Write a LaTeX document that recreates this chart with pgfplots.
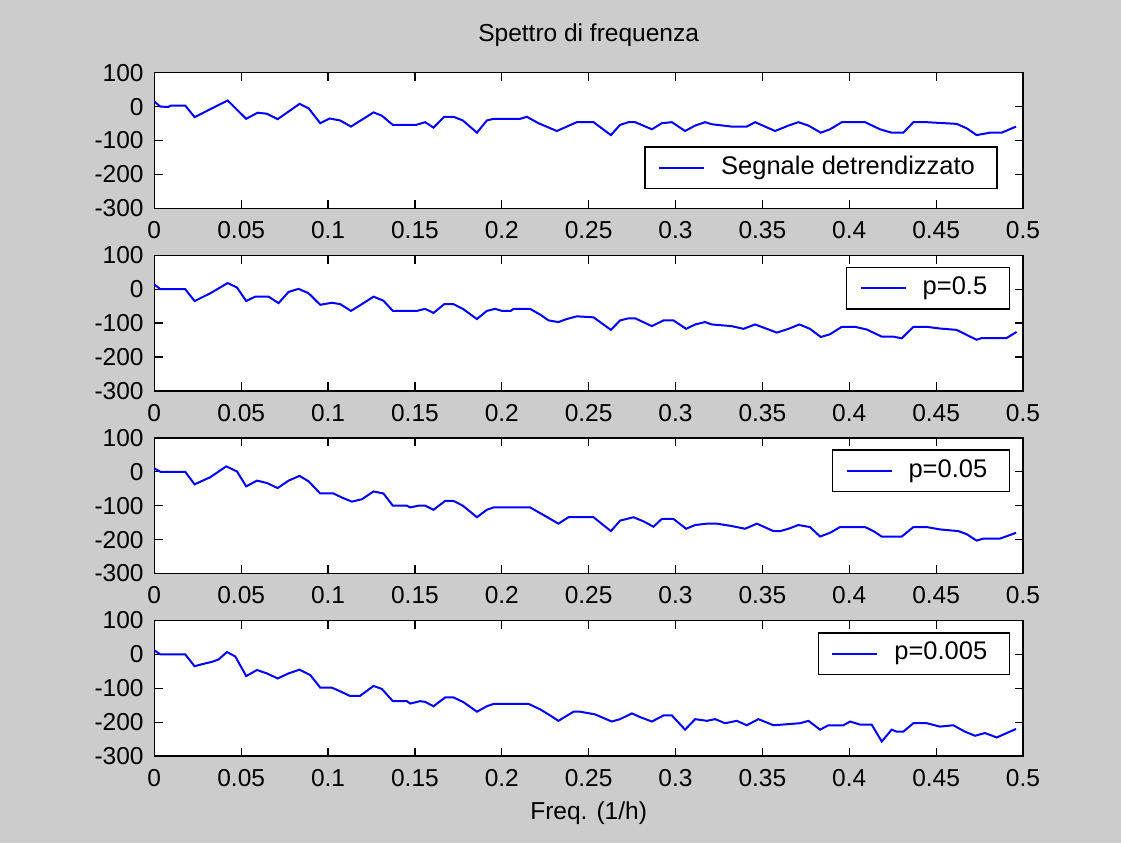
\documentclass[border=0pt]{standalone}
\usepackage{fontspec}
\setmainfont{Liberation Sans}
\usepackage{pgfplots}
\pgfplotsset{compat=1.18}
\definecolor{figbg}{RGB}{204,204,204}
\definecolor{lineblue}{RGB}{0,0,255}

\newcommand{\bigfont}{\fontsize{24.5}{28}\selectfont}
\newcommand{\legfont}{\fontsize{25.5}{29}\selectfont}

\pgfplotsset{
  spec/.style={
    scale only axis, width=868.7pt, height=135.6pt,
    xmin=0, xmax=0.5, ymin=-300, ymax=100,
    xtick={0,0.05,0.1,0.15,0.2,0.25,0.3,0.35,0.4,0.45,0.5},
    xticklabels={0,0.05,0.1,0.15,0.2,0.25,0.3,0.35,0.4,0.45,0.5},
    ytick={-300,-200,-100,0,100},
    yticklabels={-300,-200,-100,0,100},
    tick align=inside, tick pos=both,
    major tick length=8.5pt,
    tick style={black, line width=1.2pt},
    axis line style={black, line width=1.5pt},
    axis background/.style={fill=white},
    tick label style={font=\bigfont},
    xticklabel style={inner sep=0pt, anchor=north, yshift=-13pt},
    yticklabel style={inner sep=0pt, anchor=east, xshift=-10.5pt},
    label style={font=\bigfont},
    title style={font=\bigfont},
    cycle list={{lineblue, line width=2pt, mark=none}},
    legend image code/.code={\draw[#1] (0pt,0pt) -- (45pt,0pt);},
    legend style={draw=black, line width=1.5pt, fill=white, font=\legfont,
      inner xsep=13pt, inner ysep=9.5pt,
      nodes={inner sep=0pt, text height=17.5pt, text depth=5pt},
      /tikz/every odd column/.append style={column sep=16pt}},
    legend cell align=left,
  },
  legtop/.style={legend style={at={(1,1)}, anchor=north east, xshift=-13pt, yshift=-11.5pt}},
  spectrum/.style={lineblue, line width=2pt, mark=none},
}

\begin{document}
\begin{tikzpicture}
\useasboundingbox (0,0) rectangle (1121pt,843pt);
\fill[figbg] (0,0) rectangle (1121pt,843pt);

% detrended signal
\begin{axis}[spec, at={(154.3pt,634.7pt)}, anchor=south west,
  title={Spettro di frequenza},
  title style={at={(0.5,1)}, anchor=base, yshift=24.7pt, inner sep=0pt},
  legend style={at={(1,0)}, anchor=south east, xshift=-25.3pt, yshift=19pt}]
\addplot[spectrum] table {
x y
0 15
0.0035 0
0.008 -1
0.0095 3
0.0178 3
0.0232 -31
0.0422 18
0.0529 -36
0.0595 -18
0.0648 -21
0.0710 -37
0.0836 8
0.0888 -5
0.0955 -49
0.1009 -35
0.1070 -41
0.1132 -59
0.1262 -17
0.1310 -27
0.1373 -54
0.1507 -54
0.1559 -46
0.1607 -62
0.1669 -30
0.1722 -30
0.1776 -41
0.1857 -77
0.1914 -41
0.1953 -36
0.2106 -36
0.2144 -30
0.2211 -49
0.2317 -72
0.2374 -59
0.2432 -46
0.2528 -46
0.2628 -84
0.2681 -54
0.2729 -46
0.2768 -46
0.2864 -67
0.2921 -49
0.2979 -46
0.3055 -72
0.3113 -56
0.3170 -46
0.3209 -52
0.3324 -59
0.3410 -59
0.3458 -46
0.3573 -72
0.3650 -56
0.3707 -46
0.3765 -56
0.3836 -77
0.3889 -67
0.3957 -46
0.4091 -46
0.4177 -67
0.4244 -77
0.4311 -77
0.4369 -46
0.4446 -46
0.4618 -51
0.4676 -64
0.4733 -84
0.4810 -77
0.4877 -77
0.4960 -59
};
\addlegendentry{Segnale detrendizzato\kern9pt}
\end{axis}

% p = 0.5
\begin{axis}[spec, legtop, at={(154.3pt,452.1pt)}, anchor=south west]
\addplot[spectrum] table {
x y
0 14
0.0035 0
0.0178 0
0.0232 -35
0.0322 -12
0.0422 18
0.0476 5
0.0529 -35
0.0581 -22
0.0658 -22
0.0715 -41
0.0773 -8
0.0830 1
0.0888 -12
0.0955 -46
0.1022 -40
0.1070 -44
0.1132 -64
0.1195 -44
0.1262 -22
0.1319 -34
0.1373 -64
0.1511 -64
0.1559 -58
0.1607 -70
0.1669 -44
0.1722 -44
0.1776 -58
0.1857 -88
0.1914 -64
0.1962 -58
0.2001 -64
0.2052 -64
0.2067 -58
0.2163 -58
0.2221 -75
0.2269 -92
0.2326 -97
0.2374 -88
0.2432 -80
0.2528 -83
0.2628 -120
0.2681 -92
0.2729 -86
0.2768 -86
0.2864 -109
0.2931 -92
0.2988 -92
0.3061 -117
0.3113 -104
0.3170 -97
0.3209 -104
0.3324 -109
0.3391 -117
0.3458 -104
0.3583 -128
0.3650 -117
0.3713 -104
0.3774 -117
0.3836 -141
0.3889 -133
0.3957 -111
0.4033 -111
0.4101 -119
0.4187 -140
0.4254 -140
0.4302 -145
0.4369 -111
0.4446 -111
0.4522 -116
0.4618 -120
0.4676 -135
0.4733 -149
0.4762 -144
0.4906 -144
0.4963 -126
};
\addlegendentry{p=0.5\kern9pt}
\end{axis}

% p = 0.05
\begin{axis}[spec, legtop, at={(154.3pt,269.5pt)}, anchor=south west]
\addplot[spectrum] table {
x y
0 10
0.0035 0
0.0178 0
0.0232 -37
0.0322 -16
0.0414 16
0.0476 1
0.0529 -43
0.0591 -26
0.0648 -33
0.0710 -48
0.0773 -26
0.0836 -12
0.0888 -28
0.0955 -64
0.1032 -64
0.1080 -76
0.1137 -88
0.1195 -81
0.1262 -58
0.1319 -64
0.1373 -100
0.1454 -100
0.1473 -105
0.1521 -100
0.1559 -100
0.1607 -112
0.1674 -86
0.1722 -86
0.1776 -100
0.1857 -134
0.1914 -112
0.1953 -105
0.2163 -105
0.2221 -122
0.2269 -136
0.2326 -153
0.2384 -134
0.2528 -134
0.2628 -175
0.2681 -144
0.2758 -134
0.2815 -146
0.2873 -162
0.2921 -139
0.2988 -139
0.3061 -168
0.3113 -157
0.3180 -153
0.3238 -153
0.3324 -160
0.3400 -168
0.3468 -153
0.3564 -175
0.3602 -175
0.3650 -168
0.3707 -157
0.3774 -163
0.3832 -191
0.3889 -180
0.3947 -163
0.4091 -163
0.4139 -175
0.4187 -191
0.4302 -191
0.4369 -163
0.4446 -163
0.4522 -170
0.4628 -175
0.4676 -184
0.4733 -203
0.4772 -197
0.4868 -197
0.4960 -180
};
\addlegendentry{p=0.05\kern9pt}
\end{axis}

% p = 0.005
\begin{axis}[spec, legtop, at={(154.3pt,86.9pt)}, anchor=south west,
  xlabel={Freq. (1/h)},
  xlabel style={at={(0.5,0)}, anchor=base, yshift=-62.9pt, inner sep=0pt}]
\addplot[spectrum] table {
x y
0 12
0.0035 0
0.0178 0
0.0232 -35
0.0274 -29
0.0332 -22
0.0370 -15
0.0418 7
0.0466 -6
0.0529 -64
0.0591 -46
0.0648 -56
0.0710 -71
0.0773 -56
0.0836 -45
0.0898 -61
0.0955 -98
0.1022 -98
0.1070 -109
0.1124 -122
0.1185 -122
0.1262 -93
0.1310 -102
0.1373 -138
0.1454 -138
0.1473 -145
0.1530 -138
0.1559 -140
0.1607 -153
0.1674 -127
0.1722 -127
0.1780 -141
0.1857 -169
0.1914 -153
0.1953 -146
0.2154 -146
0.2221 -162
0.2278 -180
0.2326 -196
0.2413 -169
0.2451 -169
0.2537 -177
0.2633 -198
0.2681 -191
0.2749 -174
0.2796 -185
0.2864 -198
0.2931 -180
0.2979 -180
0.3055 -222
0.3113 -191
0.3180 -196
0.3228 -191
0.3285 -203
0.3353 -196
0.3410 -209
0.3477 -191
0.3564 -209
0.3717 -203
0.3765 -196
0.3832 -222
0.3880 -209
0.3966 -209
0.4005 -198
0.4062 -207
0.4129 -207
0.4187 -257
0.4244 -222
0.4273 -228
0.4311 -228
0.4369 -203
0.4446 -203
0.4522 -213
0.4599 -209
0.4666 -228
0.4724 -240
0.4781 -232
0.4849 -245
0.4906 -232
0.4960 -220
};
\addlegendentry{p=0.005\kern9pt}
\end{axis}
\end{tikzpicture}
\end{document}
